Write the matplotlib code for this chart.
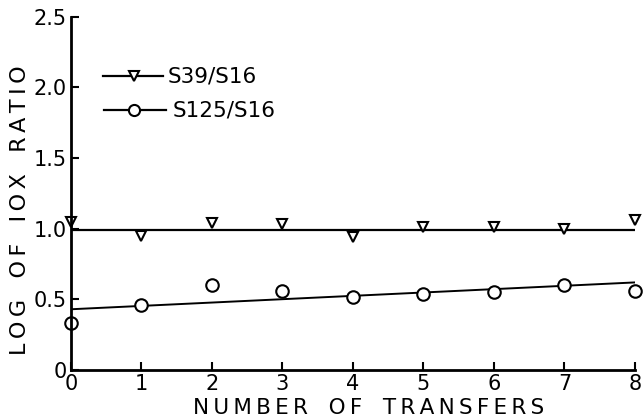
import matplotlib.pyplot as plt
import numpy as np

transfers = [0, 1, 2, 3, 4, 5, 6, 7, 8]
s39_s16 = [1.05, 0.95, 1.04, 1.03, 0.94, 1.01, 1.01, 1.00, 1.06]
s125_s16 = [0.33, 0.46, 0.60, 0.56, 0.52, 0.54, 0.55, 0.60, 0.56]

# fitted lines drawn through each series
fit_s39 = [0.99, 0.99]
fit_s125 = [0.43, 0.62]
fit_x = [0, 8]

plt.rcParams['font.family'] = 'DejaVu Sans'


def spaced(text, gap=2):
    # widen the lettering with thin spaces between characters
    thin = '\u2009'
    words = text.split(' ')
    return (' ' * gap).join(thin.join(w) for w in words)


fig = plt.figure(figsize=(6.44, 4.2), dpi=100)
ax = fig.add_axes([0.110, 0.119, 0.876, 0.841])

ax.plot(fit_x, fit_s39, color='black', lw=1.6)
ax.plot(fit_x, fit_s125, color='black', lw=1.4)
ax.plot(transfers, s39_s16, linestyle='None', marker='v', markersize=7,
        markerfacecolor='white', markeredgecolor='black', markeredgewidth=1.5, clip_on=False)
ax.plot(transfers, s125_s16, linestyle='None', marker='o', markersize=9,
        markerfacecolor='white', markeredgecolor='black', markeredgewidth=1.5, clip_on=False)

# legend drawn by hand as sample lines with markers
ax.plot([0.45, 1.3], [2.08, 2.08], color='black', lw=1.6)
ax.plot([0.9], [2.08], marker='v', markersize=7, markerfacecolor='white',
        markeredgecolor='black', markeredgewidth=1.5)
ax.text(1.37, 2.08, 'S39/S16', fontsize=15.5, va='center', ha='left')
ax.plot([0.47, 1.35], [1.84, 1.84], color='black', lw=1.6)
ax.plot([0.9], [1.84], marker='o', markersize=8, markerfacecolor='white',
        markeredgecolor='black', markeredgewidth=1.5)
ax.text(1.45, 1.84, 'S125/S16', fontsize=15.5, va='center', ha='left')

ax.set_xlim(0, 8)
ax.set_ylim(0, 2.5)
ax.set_xticks(range(0, 9))
ax.set_yticks([0, 0.5, 1.0, 1.5, 2.0, 2.5])
ax.set_yticklabels(['0', '0.5', '1.0', '1.5', '2.0', '2.5'])
ax.tick_params(axis='both', direction='in', length=6, width=1.5, labelsize=15, pad=3)

for side in ['top', 'right']:
    ax.spines[side].set_visible(False)
for side in ['left', 'bottom']:
    ax.spines[side].set_linewidth(2)

ax.set_xlabel(spaced('NUMBER OF TRANSFERS', 3), fontsize=15.5, va='center')
ax.xaxis.set_label_coords(0.527, -0.108)
ax.set_ylabel(spaced('LOG OF IOX RATIO', 3), fontsize=16, va='center')
ax.yaxis.set_label_coords(-0.09, 0.453)

plt.savefig('out.png')
